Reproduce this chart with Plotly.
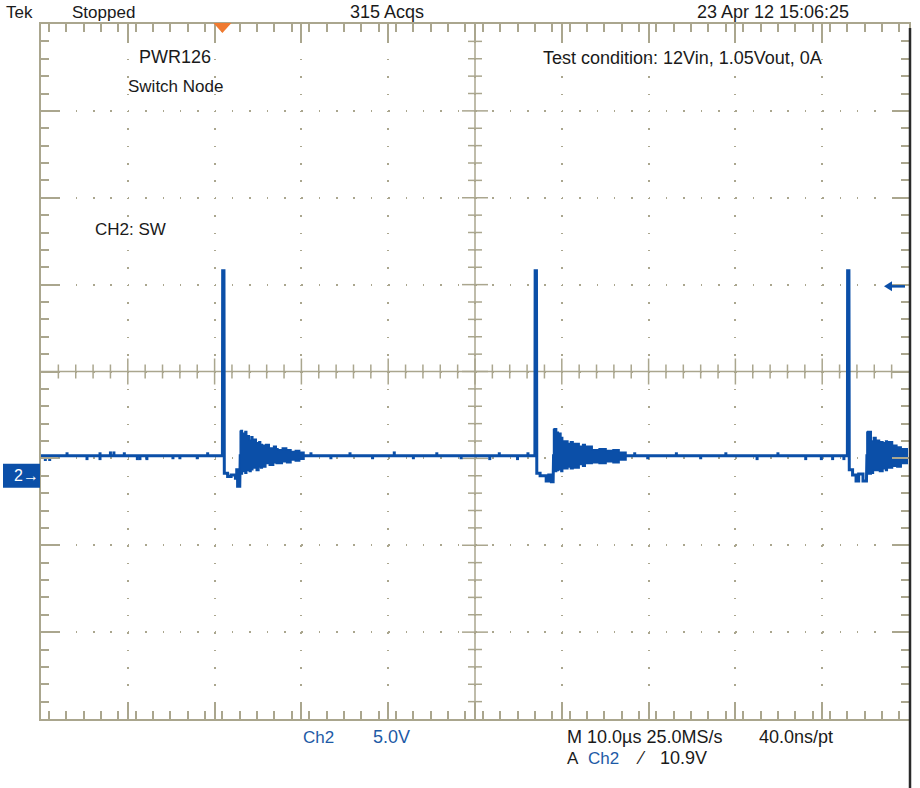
import plotly.graph_objects as go

# ---------------- figure geometry (pixels) ----------------
W, H = 920, 788
L, R, T, B = 41, 909, 24, 719

# ---------------- scope scales ----------------
T_DIV = 10.0          # µs / div
V_DIV = 5.0           # V / div
X_RANGE = [-20.9, 79.1]   # µs (10 div), trigger at t = 0
Y_RANGE = [-14.0, 26.0]   # V  (8 div), ground at 0 V
TRIG_LEVEL = 10.9

# ---------------- data ----------------
BASE = 1.15
main_t = [-20.9, 0.0, 0.03, 0.18, 0.22, 0.6, 0.6, 1.0, 1.0, 1.5, 1.5, 1.65, 1.65, 1.75, 1.75, 2.0, 2.05,
          36.0, 36.03, 36.18, 36.22, 36.6, 36.6, 37.3, 37.3, 37.6, 37.6, 37.9, 37.9, 38.1, 38.15,
          72.0, 72.03, 72.18, 72.22, 72.6, 72.6, 73.0, 73.0, 73.3, 73.3, 73.8, 73.8, 74.2, 74.25, 78.9]
main_v = [BASE, BASE, 11.8, 11.8, 0.15, 0.15, -0.05, -0.05, 0.05, 0.05, -0.15, -0.15, 0.35, 0.35, -0.6, -0.6, BASE,
          BASE, 11.8, 11.8, 0.15, 0.15, 0.0, 0.0, -0.3, -0.3, 0.05, 0.05, -0.35, -0.35, BASE,
          BASE, 11.8, 11.8, 0.35, 0.35, 0.05, 0.05, -0.3, -0.3, 0.1, 0.1, -0.3, -0.3, BASE, BASE]

ring1_t = [2.05, 2.3, 2.6, 2.8, 3.1, 3.3, 3.5, 3.9, 4.2, 4.4, 4.6, 5.0, 5.4, 5.9, 6.2, 6.4, 6.9, 7.4, 7.9, 8.4, 8.9, 9.4]
ring1_up = [2.6, 2.45, 2.55, 2.3, 2.05, 2.25, 2.1, 1.9, 1.95, 1.8, 1.75, 1.8, 1.6, 1.7, 1.55, 1.5, 1.6, 1.5, 1.4, 1.45, 1.35]
ring1_lo = [0.1, 0.25, 0.15, 0.3, 0.25, 0.35, 0.45, 0.3, 0.5, 0.45, 0.5, 0.7, 0.6, 0.75, 0.7, 0.7, 0.8, 0.75, 0.9, 0.85, 0.95]

ring2_t = [38.15, 38.5, 38.7, 39.0, 39.2, 39.8, 40.1, 40.4, 41.1, 41.5, 41.8, 42.6, 43.4, 44.2, 45.0, 45.7, 46.5]
ring2_up = [2.7, 2.5, 2.45, 2.2, 2.0, 1.85, 1.95, 1.85, 1.7, 1.8, 1.7, 1.5, 1.55, 1.45, 1.5, 1.35]
ring2_lo = [0.25, 0.3, 0.35, 0.25, 0.4, 0.5, 0.4, 0.45, 0.65, 0.55, 0.7, 0.75, 0.7, 0.8, 0.75, 0.9]

ring3_t = [74.25, 74.75, 75.0, 75.3, 75.7, 76.1, 76.4, 76.6, 77.2, 77.7, 78.2, 78.9]
ring3_up = [2.55, 2.0, 2.2, 2.05, 1.95, 1.9, 2.0, 1.95, 1.75, 1.65, 1.55]
ring3_lo = [0.1, 0.15, 0.3, 0.3, 0.25, 0.4, 0.3, 0.45, 0.55, 0.5, 0.7]

blip_t = [-20.4, -19.9, -17.9, -15.6, -14.1, -14.1, -12.9, -12.5, -11.3, -9.8, -9.5, -8.7, -5.7, -4.9, -2.9, -1.7,
          10.2, 12.5, 14.7, 17.3, 19.8, 22.0, 24.7, 27.5, 30.8, 31.9, 34.0, 35.2,
          47.5, 49.0, 52.3, 55.1, 58.0, 61.6, 64.0, 67.2, 69.0, 70.3, 71.6]
blip_dv = [-0.3, -0.3, 0.2, -0.25, 0.2, -0.25, 0.25, 0.25, 0.2, -0.25, -0.25, -0.25, -0.2, -0.2, -0.2, 0.2,
           0.2, -0.2, 0.2, -0.2, 0.25, -0.2, 0.2, -0.2, -0.25, 0.2, -0.25, 0.2,
           0.2, -0.2, 0.2, -0.2, 0.2, -0.25, 0.2, -0.25, -0.25, -0.25, -0.25]

# ---------------- styles ----------------
BLUE = "#0b4fa8"
TXT_BLUE = "#1d5aa6"
GRAT = "#aaa68e"
TXT = "#1a1a1a"
FONT = "Liberation Sans, Arial, sans-serif"


def px(x):
    return (x - L) / (R - L)


def py(y):
    return (B - y) / (B - T)


def envelope(edges, up, lo):
    xs, ys = [], []
    for i, u in enumerate(up):
        xs += [edges[i], edges[i + 1]]
        ys += [u, u]
    for i in range(len(lo) - 1, -1, -1):
        xs += [edges[i + 1], edges[i]]
        ys += [lo[i], lo[i]]
    xs.append(xs[0])
    ys.append(ys[0])
    return xs, ys


fig = go.Figure()

fig.add_trace(go.Scatter(x=main_t, y=main_v, mode="lines",
                         line=dict(color=BLUE, width=3), hoverinfo="skip", showlegend=False))

for e, u, l in [(ring1_t, ring1_up, ring1_lo), (ring2_t, ring2_up, ring2_lo), (ring3_t, ring3_up, ring3_lo)]:
    xs, ys = envelope(e, u, l)
    fig.add_trace(go.Scatter(x=xs, y=ys, mode="lines", fill="toself", fillcolor=BLUE,
                             line=dict(color=BLUE, width=1.5), hoverinfo="skip", showlegend=False))

bx, by = [], []
for t, dv in zip(blip_t, blip_dv):
    bx += [t, t, None]
    by += [BASE, BASE + dv, None]
fig.add_trace(go.Scatter(x=bx, y=by, mode="lines", line=dict(color=BLUE, width=3),
                         hoverinfo="skip", showlegend=False))

# ---------------- graticule: centre cross with ticks ----------------
xc = X_RANGE[0] + 5 * T_DIV
yc = Y_RANGE[0] + 4 * V_DIV
shapes = [
    dict(type="line", xref="x", yref="paper", x0=xc, x1=xc, y0=0, y1=1, layer="between",
         line=dict(color=GRAT, width=1.5)),
    dict(type="line", xref="paper", yref="y", x0=0, x1=1, y0=yc, y1=yc, layer="between",
         line=dict(color=GRAT, width=1.5)),
]
for k in range(1, 50):
    t = X_RANGE[0] + k * T_DIV / 5
    half = 13 if k % 5 == 0 else 7
    shapes.append(dict(type="line", xref="x", yref="y", ysizemode="pixel", yanchor=yc,
                       x0=t, x1=t, y0=-half, y1=half, layer="between", line=dict(color=GRAT, width=1.5)))
for k in range(1, 40):
    v = Y_RANGE[0] + k * V_DIV / 5
    half = 13 if k % 5 == 0 else 7
    shapes.append(dict(type="line", xref="x", yref="y", xsizemode="pixel", xanchor=xc,
                       x0=-half, x1=half, y0=v, y1=v, layer="between", line=dict(color=GRAT, width=1.5)))

# trigger position marker (orange) at top
shapes.append(dict(type="path", xref="x", yref="paper", xsizemode="pixel", ysizemode="pixel",
                   xanchor=0, yanchor=1, path="M-9,1 L9,1 L0,-9 Z",
                   fillcolor="#f07a30", line=dict(width=0)))
# channel 2 ground marker
shapes.append(dict(type="rect", xref="paper", yref="y", ysizemode="pixel", yanchor=0,
                   x0=px(3), x1=px(40), y0=-12, y1=12, fillcolor=BLUE, line=dict(width=0)))
# trigger level arrow (right side)
shapes.append(dict(type="line", xref="paper", yref="y", x0=px(889), x1=px(905),
                   y0=TRIG_LEVEL, y1=TRIG_LEVEL, line=dict(color=BLUE, width=2.5)))
shapes.append(dict(type="path", xref="paper", yref="y", ysizemode="pixel", yanchor=TRIG_LEVEL,
                   path=f"M{px(884)},0 L{px(892)},5 L{px(892)},-5 Z",
                   fillcolor=BLUE, line=dict(width=0)))
# dark right frame edge
shapes.append(dict(type="line", xref="paper", yref="paper", x0=px(910), x1=px(910),
                   y0=py(28), y1=py(790), line=dict(color="#2a2a2a", width=2.5)))

ann = []


def text(s, x, y, color=TXT, size=18, anchor="left"):
    ann.append(dict(text=s, x=px(x), y=py(y), xref="paper", yref="paper", showarrow=False,
                    xanchor=anchor, yanchor="middle", font=dict(family=FONT, size=size, color=color)))


text("Tek", 4, 12, size=17)
text("Stopped", 70, 12, size=17)
text("315 Acqs", 348, 12)
text("23 Apr 12 15:06:25", 695, 12)
text("PWR126", 137, 57)
text("Switch Node", 126, 87, size=17)
text("CH2: SW", 93, 229, size=17)
text("Test condition: 12Vin, 1.05Vout, 0A", 541, 58)
text("Ch2", 301, 737, TXT_BLUE, size=17)
text("5.0V", 371, 737, TXT_BLUE)
text("M 10.0µs 25.0MS/s", 565, 737)
text("40.0ns/pt", 757, 737)
text("A", 565, 758, size=17)
text("Ch2", 586, 758, TXT_BLUE, size=17)
text("⁄", 634, 758)
text("10.9V", 658, 758)

ann.append(dict(text="2→", x=px(26), y=0, xref="paper", yref="y", showarrow=False,
                xanchor="center", yanchor="middle", font=dict(family=FONT, size=16, color="white")))

axis_common = dict(showticklabels=False, ticks="inside", ticklen=17, tickwidth=1.5, tickcolor=GRAT,
                   showline=True, linecolor=GRAT, linewidth=1.5, mirror="allticks",
                   showgrid=True, gridcolor=GRAT, gridwidth=1.5, zeroline=False)

fig.update_layout(
    width=W, height=H,
    margin=dict(l=L, r=W - R, t=T, b=H - B, pad=0, autoexpand=False),
    paper_bgcolor="white", plot_bgcolor="white",
    showlegend=False,
    shapes=shapes, annotations=ann,
    xaxis=dict(range=X_RANGE, tick0=X_RANGE[0], dtick=T_DIV, griddash="1.5px,15.88px",
               minor=dict(dtick=T_DIV / 5, ticks="inside", ticklen=8, tickwidth=1.5, tickcolor=GRAT,
                          showgrid=False),
               **axis_common),
    yaxis=dict(range=Y_RANGE, tick0=Y_RANGE[0], dtick=V_DIV, griddash="1.5px,15.86px",
               minor=dict(dtick=V_DIV / 5, ticks="inside", ticklen=8, tickwidth=1.5, tickcolor=GRAT,
                          showgrid=False),
               **axis_common),
)

fig.write_html("out.html", config={"displayModeBar": False},
               post_script="document.body.style.margin='0';")
